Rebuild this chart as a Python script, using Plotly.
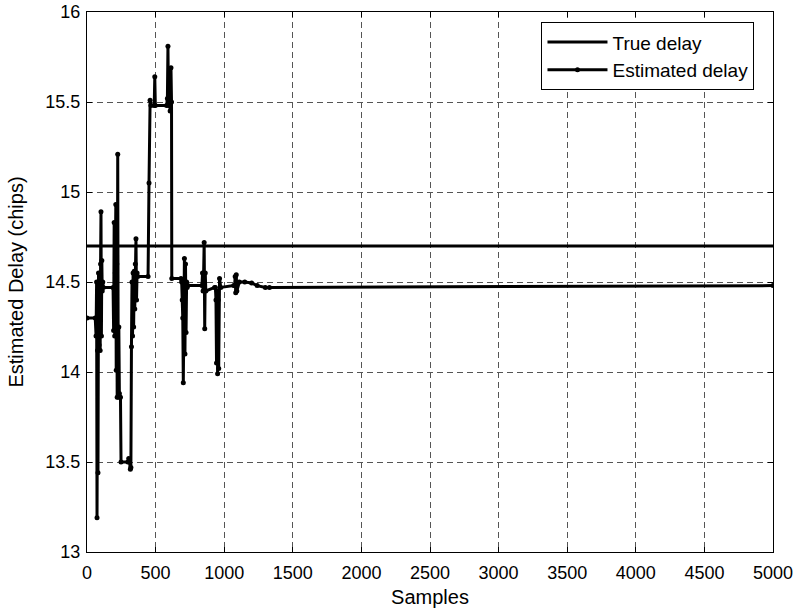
import plotly.graph_objects as go

# True delay (chips)
true_x = [0, 5000]
true_delay = [14.7, 14.7]

# Estimated delay trace (samples, chips)
est_samples = [
    0, 60, 66, 70, 73, 77, 80, 84, 88, 92, 96, 99, 102, 105, 108, 111, 115, 119,
    190, 194, 198, 202, 206, 210, 213, 217, 220, 224, 228, 232, 236, 244, 248,
    298, 304, 310, 316, 320, 324, 328, 332, 336, 340, 344, 348, 352, 357, 361,
    365, 370, 445, 452, 460, 466, 490, 494, 498, 580, 586, 590, 594, 600, 606,
    612, 616, 618, 685, 690, 694, 698, 702, 706, 710, 714, 718, 722, 726, 730,
    735, 838, 842, 846, 850, 854, 858, 862, 866, 930, 936, 940, 944, 948, 952,
    956, 960, 966, 975, 1070, 1076, 1080, 1084, 1088, 1092, 1110, 1150, 1200,
    1240, 1300, 1330, 5000,
]
est_delay = [
    14.30, 14.30, 14.20, 14.50, 13.19, 14.12, 13.44, 14.55, 14.15, 14.54, 14.12,
    14.60, 14.89, 14.20, 14.62, 14.45, 14.50, 14.47,
    14.47, 14.23, 14.83, 14.20, 14.55, 14.93, 14.01, 14.60, 13.86, 15.21, 13.86,
    14.25, 13.88, 13.86, 13.50,
    13.50, 13.52, 13.50, 13.46, 13.47, 14.14, 14.50, 14.20, 14.55, 14.25, 14.56,
    14.35, 14.60, 14.74, 14.40,
    14.55, 14.53, 14.53, 15.05, 15.51, 15.48, 15.48, 15.64, 15.48, 15.48, 15.52,
    15.81, 15.48, 15.55, 15.45,
    15.69, 15.50, 14.52, 14.52, 14.50, 14.40, 14.30, 13.94, 14.45, 14.63, 14.10,
    14.60, 14.22, 14.50, 14.47,
    14.48, 14.48, 14.55, 14.45, 14.55, 14.72, 14.24, 14.55, 14.45, 14.47, 14.47,
    14.40, 14.05, 14.45, 13.99, 14.40,
    14.02, 14.52, 14.47, 14.48, 14.48, 14.53, 14.44, 14.54, 14.45, 14.50, 14.50,
    14.495, 14.48,
    14.47, 14.47, 14.48, 14.48,
]

x_ticks = [0, 500, 1000, 1500, 2000, 2500, 3000, 3500, 4000, 4500, 5000]
y_ticks = [13, 13.5, 14, 14.5, 15, 15.5, 16]

FONT = "Liberation Sans, Arial, Helvetica, sans-serif"

fig = go.Figure()
fig.add_trace(go.Scatter(
    x=true_x, y=true_delay, mode="lines", name="True delay",
    line=dict(color="black", width=3),
))
fig.add_trace(go.Scatter(
    x=est_samples, y=est_delay, mode="lines+markers", name="Estimated delay",
    line=dict(color="black", width=3),
    marker=dict(color="black", size=5),
))

axis_common = dict(
    showline=True, linecolor="black", linewidth=1, mirror="ticks",
    ticks="inside", ticklen=5, tickcolor="black", tickwidth=1,
    showgrid=True, gridcolor="#555555", gridwidth=1, griddash="6px,4px",
    zeroline=False, automargin=False, ticklabeloverflow="allow",
    tickfont=dict(family=FONT, size=18, color="black"),
)

fig.update_xaxes(
    range=[0, 5000], tickvals=x_ticks, ticktext=[str(v) for v in x_ticks],
    ticklabelstandoff=4,
    title=dict(text="Samples", font=dict(family=FONT, size=20, color="black"), standoff=8),
    **axis_common,
)
fig.update_yaxes(
    range=[13, 16], tickvals=y_ticks, ticktext=[f"{v:g}" for v in y_ticks],
    ticklabelstandoff=2,
    title=dict(text="Estimated Delay (chips)", font=dict(family=FONT, size=20, color="black"), standoff=16),
    **axis_common,
)

fig.update_layout(
    width=798, height=610,
    margin=dict(l=87, r=25, t=12, b=58),
    paper_bgcolor="white", plot_bgcolor="white",
    showlegend=True,
    legend=dict(
        x=0.973, y=0.981, xanchor="right", yanchor="top",
        bgcolor="white", bordercolor="black", borderwidth=1,
        font=dict(family=FONT, size=19, color="black"),
        itemwidth=60,
    ),
    font=dict(family=FONT, color="black"),
)

fig.write_html(
    "out.html",
    config={"displayModeBar": False},
    post_script="document.body.style.margin='0';document.body.style.overflow='hidden';",
)
